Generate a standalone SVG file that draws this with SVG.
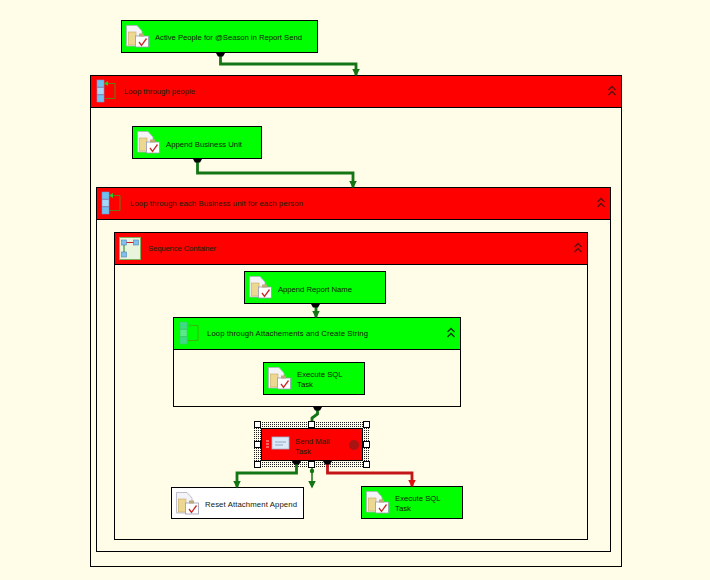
<svg xmlns="http://www.w3.org/2000/svg" width="710" height="580" viewBox="0 0 710 580">
<style>
text{font-family:"Liberation Sans",Arial,sans-serif;font-size:7.75px;fill:#142008}
.box{stroke:#000;stroke-width:1}
.g{fill:#00ff00}.r{fill:#ff0000}.w{fill:#fffce8}.wh{fill:#fff}
.cg{fill:none;stroke:#137513;stroke-width:2.8}
.cr{fill:none;stroke:#c41616;stroke-width:2.8}
.h{fill:#fff;stroke:#000;stroke-width:1}
</style>
<defs>
<pattern id="dots" width="2" height="2" patternUnits="userSpaceOnUse"><rect width="2" height="2" fill="#fffce8"/><rect width="1" height="1" fill="#222"/></pattern>
<marker id="ag" markerUnits="userSpaceOnUse" markerWidth="9" markerHeight="8" refX="6.500" refY="4" orient="auto"><path d="M0 0L8 4L0 8z" fill="#137513"/></marker>
<marker id="ar" markerUnits="userSpaceOnUse" markerWidth="9" markerHeight="8" refX="6.500" refY="4" orient="auto"><path d="M0 0L8 4L0 8z" fill="#dc0f0f"/></marker>
<path id="port" d="M-4.500 0H4.500L2.500 3.500H-2.500z" fill="#000"/>
<g id="task">
<path d="M.5 .5H11L16 6V21H.5z" fill="#f4f4f8" stroke="#b0b0c0" stroke-width=".8"/>
<rect x="2.500" y="7" width="7.500" height="13" fill="#ecd890" stroke="#c8a860" stroke-width=".6"/>
<rect x="9.500" y="11" width="13" height="11" fill="#fff" stroke="#9a9ab4" stroke-width=".8"/>
<rect x="13" y="8.500" width="5" height="3" fill="#c0a878"/>
<path d="M13 17L15.500 20.500L20.500 13.500" fill="none" stroke="#d02828" stroke-width="1.300"/>
</g>
<g id="loop">
<rect x="0" y="0" width="7" height="7" fill="#70c0f0" stroke="#7098c8" stroke-width=".6"/>
<rect x="0" y="7.500" width="7" height="7" fill="#a4d8f6" stroke="#7098c8" stroke-width=".6"/>
<rect x="0" y="15" width="7" height="7" fill="#70c0f0" stroke="#7098c8" stroke-width=".6"/>
<path d="M8 3.500H18V18.500H8" fill="none" stroke="#6a7a10" stroke-width="1"/>
<path d="M7 3.500L11 1V6z" fill="#20d020"/>
</g>
<g id="chev"><path d="M-3.500 -1L0 -4.500L3.500 -1M-3.500 4L0 .5L3.500 4" fill="none" stroke="#5a1010" stroke-width="1.400"/></g>
<g id="chevg"><path d="M-3.500 -1L0 -4.500L3.500 -1M-3.500 4L0 .5L3.500 4" fill="none" stroke="#0a3a0a" stroke-width="1.400"/></g>
</defs>
<rect width="710" height="580" fill="#fffce8"/>

<g id="node-active-people">
<rect class="box g" x="121.500" y="20.500" width="196" height="32"/>
<use href="#task" x="126" y="25"/>
<text x="155" y="40" textLength="147">Active People for @Season in Report Send</text>
</g>

<g id="node-loop-people">
<rect class="box w" x="90.500" y="75.500" width="531" height="491"/>
<rect class="box r" x="90.500" y="75.500" width="531" height="32"/>
<use href="#loop" x="97" y="80"/>
<text x="124" y="94" textLength="71">Loop through people</text>
<use href="#chev" x="612" y="91"/>
</g>

<g id="node-append-bu">
<rect class="box g" x="132.500" y="126.500" width="129" height="32"/>
<use href="#task" x="137" y="131"/>
<text x="166" y="147" textLength="76">Append Business Unit</text>
</g>

<g id="node-loop-bu">
<rect class="box w" x="96.500" y="187.500" width="514" height="364"/>
<rect class="box r" x="96.500" y="187.500" width="514" height="32"/>
<use href="#loop" x="102" y="192"/>
<text x="130" y="206" textLength="173">Loop through each Business unit for each person</text>
<use href="#chev" x="601" y="203"/>
</g>

<g id="node-sequence">
<rect class="box w" x="114.500" y="232.500" width="473" height="307"/>
<rect class="box r" x="114.500" y="232.500" width="473" height="32"/>
<rect x="119.500" y="237.500" width="21" height="22" fill="#e8f4dc" stroke="#80b060"/>
<rect x="121.500" y="240" width="5" height="5" fill="#80c0f0" stroke="#5080b0" stroke-width=".6"/>
<rect x="133.500" y="240" width="5" height="5" fill="#80c0f0" stroke="#5080b0" stroke-width=".6"/>
<rect x="121.500" y="252" width="5" height="5" fill="#80c0f0" stroke="#5080b0" stroke-width=".6"/>
<path d="M126.500 242.500H133.500" stroke="#d02020"/>
<path d="M124 245V252" stroke="#208020"/>
<text x="148" y="251" textLength="68">Sequence Container</text>
<use href="#chev" x="578" y="248"/>
</g>

<g id="node-append-report">
<rect class="box g" x="244.500" y="271.500" width="141" height="32"/>
<use href="#task" x="249" y="276"/>
<text x="278" y="292" textLength="74">Append Report Name</text>
</g>

<g id="node-loop-attach">
<rect class="box w" x="173.500" y="317.500" width="287" height="89"/>
<rect class="box g" x="173.500" y="317.500" width="287" height="32"/>
<g opacity=".55"><use href="#loop" x="180" y="322"/></g>
<text x="207" y="336" textLength="161">Loop through Attachements and Create String</text>
<use href="#chevg" x="451" y="333"/>
</g>

<g id="node-exec-sql-1">
<rect class="box g" x="263.500" y="362.500" width="101" height="32"/>
<use href="#task" x="268" y="367"/>
<text x="297" y="377">Execute SQL</text>
<text x="297" y="387">Task</text>
</g>

<g id="node-send-mail">
<rect x="254" y="421" width="116" height="47" fill="url(#dots)"/>
<rect class="box r" x="261.500" y="428.500" width="101" height="32"/>
<path d="M266 441h3M266 444h3M266 447h3" stroke="#f0c0c0" stroke-width="1"/>
<rect x="272" y="437" width="17" height="12" fill="#dceaf8" stroke="#a0b0c8" stroke-width=".8"/>
<path d="M275 442H286M275 445H283" stroke="#90a8c8"/>
<circle cx="354" cy="445" r="5" fill="#a81414"/>
<text x="295" y="444">Send Mail</text>
<text x="295" y="454">Task</text>
<rect class="h" x="254.500" y="421.500" width="6" height="6"/>
<rect class="h" x="308.500" y="421.500" width="6" height="6"/>
<rect class="h" x="363.500" y="421.500" width="6" height="6"/>
<rect class="h" x="254.500" y="441.500" width="6" height="6"/>
<rect class="h" x="363.500" y="441.500" width="6" height="6"/>
<rect class="h" x="254.500" y="461.500" width="6" height="6"/>
<rect class="h" x="308.500" y="461.500" width="6" height="6"/>
<rect class="h" x="363.500" y="461.500" width="6" height="6"/>
</g>

<g id="node-reset">
<rect class="box wh" x="171.500" y="487.500" width="132" height="31"/>
<use href="#task" x="176" y="492"/>
<text x="205" y="507" textLength="92">Reset Attachment Append</text>
</g>

<g id="node-exec-sql-2">
<rect class="box g" x="361.500" y="486.500" width="101" height="32"/>
<use href="#task" x="366" y="491"/>
<text x="395" y="501">Execute SQL</text>
<text x="395" y="511">Task</text>
</g>

<g id="connectors">
<path class="cg" marker-end="url(#ag)" d="M220.500 53V64H356V75"/>
<use href="#port" x="220.500" y="53"/>
<path class="cg" marker-end="url(#ag)" d="M197.500 159V173H353V187"/>
<use href="#port" x="197.500" y="159"/>
<path class="cg" marker-end="url(#ag)" d="M316 304V317"/>
<use href="#port" x="315.500" y="304"/>
<path class="cg" d="M317.500 407V414L312 418V421"/>
<use href="#port" x="317.500" y="407"/>
<path class="cg" marker-end="url(#ag)" d="M296.500 461V473H237V487"/>
<use href="#port" x="296.500" y="461"/>
<path class="cg" style="stroke-width:1.500" marker-end="url(#ag)" d="M312 468V487"/>
<circle cx="312" cy="471" r="2.200" fill="#137513"/>
<path class="cr" marker-end="url(#ar)" d="M327.500 461V473H412V486"/>
<use href="#port" x="327.500" y="461"/>
</g>
</svg>
